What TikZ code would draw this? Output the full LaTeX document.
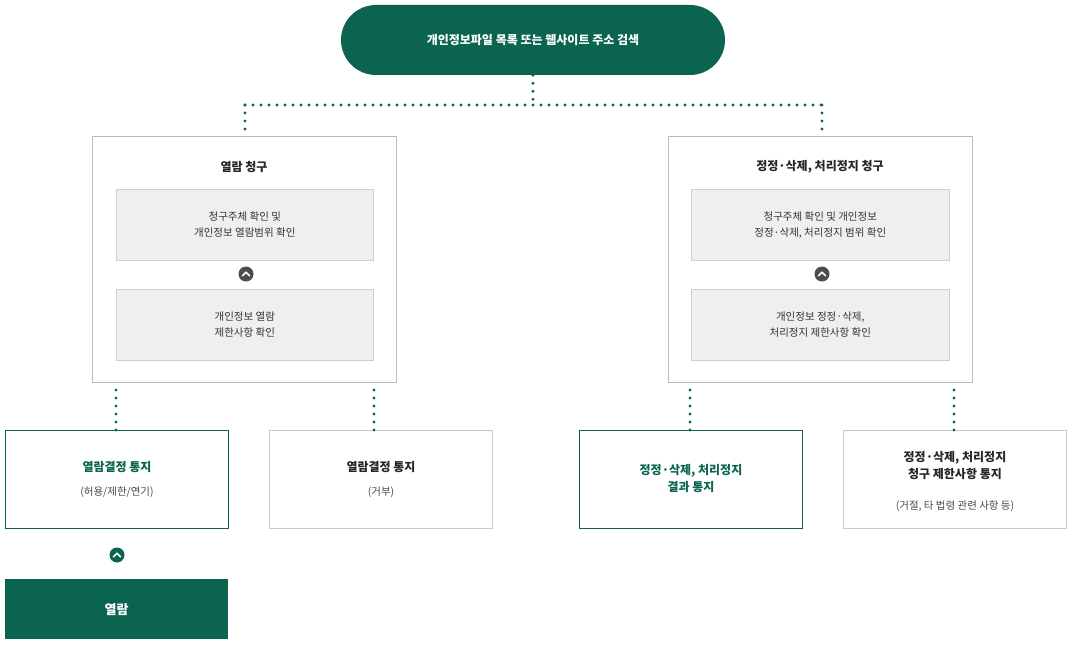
\documentclass[tikz,border=0pt]{standalone}
\usepackage{fontspec}
\setmainfont{Noto Sans CJK KR}
\definecolor{dg}{HTML}{0B6450}
\definecolor{bx}{HTML}{BBBBBB}
\definecolor{ib}{HTML}{EFEFEF}
\definecolor{tx}{HTML}{333333}
\begin{document}
\begin{tikzpicture}[x=1pt,y=-1pt,
 dots/.style={dg,line width=3.2pt,line cap=round,dash pattern=on 0pt off 8pt},
 big/.style={draw=bx,line width=0.8pt,anchor=north west,inner sep=0},
 inner/.style={draw=bx!70,fill=ib,line width=0.6pt,anchor=north west,inner sep=0},
 gbox/.style={draw=dg,line width=1pt,anchor=north west,inner sep=0},
 pbox/.style={draw=bx!80,line width=0.8pt,anchor=north west,inner sep=0},
 lbl/.style={font=\fontsize{10.5}{16}\selectfont,text=tx,align=center},
 ttl/.style={font=\bfseries\fontsize{12}{17}\selectfont,text=black!85,align=center},
 gttl/.style={font=\bfseries\fontsize{12}{17}\selectfont,text=dg,align=center},
 sub/.style={font=\fontsize{10.5}{15}\selectfont,text=tx!90,align=center}]
\useasboundingbox (0,0) rectangle (1072,650);
\node[fill=dg,rounded corners=35pt,minimum width=384pt,minimum height=70pt,inner sep=0,text=white,font=\bfseries\fontsize{12}{15}\selectfont] (top) at (533,40) {개인정보파일 목록 또는 웹사이트 주소 검색};
\coordinate (j) at (533,105);
\coordinate (jl) at (245,105);
\coordinate (jr) at (822,105);
% big boxes
\node[big,minimum width=304pt,minimum height=246pt] (L) at (92,136) {};
\node[big,minimum width=304pt,minimum height=246pt] (R) at (668,136) {};
\node[ttl] (Lt) at (244,167) {열람 청구};
\node[ttl] (Rt) at (820,167) {정정·삭제, 처리정지 청구};
\node[inner,minimum width=257pt,minimum height=71pt] (L1) at (116,189) {};
\node[lbl] at (L1.center) {청구주체 확인 및\\개인정보 열람범위 확인};
\node[inner,minimum width=257pt,minimum height=71pt] (L2) at (116,289) {};
\node[lbl] at (L2.center) {개인정보 열람\\제한사항 확인};
\node[inner,minimum width=258pt,minimum height=71pt] (R1) at (691,189) {};
\node[lbl] at (R1.center) {청구주체 확인 및 개인정보\\정정·삭제, 처리정지 범위 확인};
\node[inner,minimum width=258pt,minimum height=71pt] (R2) at (691,289) {};
\node[lbl] at (R2.center) {개인정보 정정·삭제,\\처리정지 제한사항 확인};
\foreach \n/\x/\y/\c in {c1/246/274/black!70, c2/822/274/black!70, c3/117/555/dg}{
 \node[circle,fill=\c,minimum size=15pt,inner sep=0] (\n) at (\x,\y) {};
 \draw[white,line width=1.6pt,line cap=round,line join=round] ([xshift=-3.5pt,yshift=-1.8pt]\n.center) -- ([yshift=1.8pt]\n.center) -- ([xshift=3.5pt,yshift=-1.8pt]\n.center);
}
% bottom boxes
\node[gbox,minimum width=223pt,minimum height=98pt] (B1) at (5,430) {};
\node[pbox,minimum width=223pt,minimum height=98pt] (B2) at (269,430) {};
\node[gbox,minimum width=223pt,minimum height=98pt] (B3) at (579,430) {};
\node[pbox,minimum width=223pt,minimum height=98pt] (B4) at (843,430) {};
\node[gttl] at (117,467) {열람결정 통지};
\node[sub] at (117,492) {(허용/제한/연기)};
\node[ttl] at (381,467) {열람결정 통지};
\node[sub] at (381,492) {(거부)};
\node[gttl] at (691,479) {정정·삭제, 처리정지\\결과 통지};
\node[ttl] at (955,466) {정정·삭제, 처리정지\\청구 제한사항 통지};
\node[sub] at (955,506) {(거절, 타 법령 관련 사항 등)};
\node[fill=dg,minimum width=223pt,minimum height=60pt,inner sep=0,anchor=north west,text=white,font=\bfseries\fontsize{13}{16}\selectfont] (F) at (5,579) {};
\node[text=white,font=\bfseries\fontsize{13}{16}\selectfont] at (F.center) {열람};
% connectors
\draw[dots] (top.south) -- (j);
\draw[dots] (jl) -- (jr);
\draw[dots] (jl) -- (L.north -| jl);
\draw[dots] (jr) -- (R.north -| jr);
\coordinate (a1) at (116,390); \coordinate (a2) at (374,390);
\coordinate (a3) at (690,390); \coordinate (a4) at (954,390);
\draw[dots] (a1) -- (a1 |- B1.north);
\draw[dots] (a2) -- (a2 |- B2.north);
\draw[dots] (a3) -- (a3 |- B3.north);
\draw[dots] (a4) -- (a4 |- B4.north);
\end{tikzpicture}
\end{document}
